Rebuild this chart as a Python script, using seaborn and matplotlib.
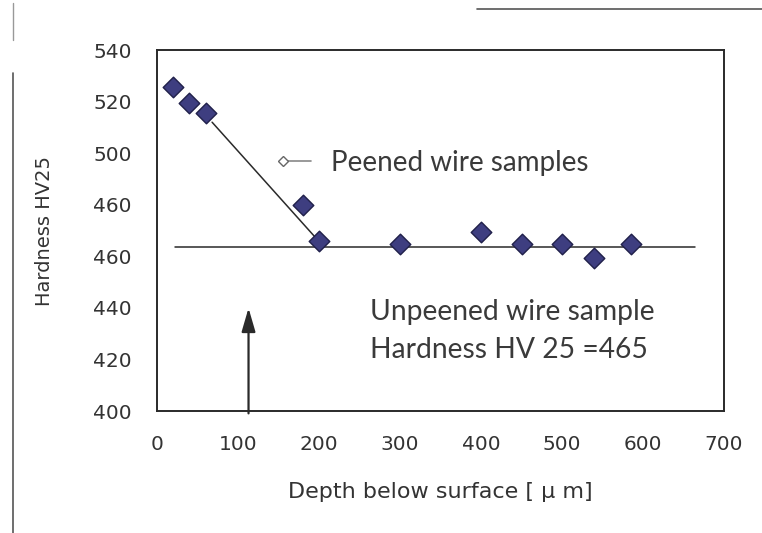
import matplotlib
matplotlib.use("Agg")
import matplotlib.pyplot as plt
import seaborn as sns
import pandas as pd
from matplotlib.lines import Line2D
from matplotlib.legend_handler import HandlerLine2D

# ---- data ----
depth = [20, 40, 60, 180, 200, 300, 400, 450, 500, 540, 585]
hardness = [525.7, 519.6, 515.7, 479.8, 466.0, 464.8, 469.4, 464.8, 464.8, 459.4, 464.8]

trend_x = [68, 205]
trend_y = [512, 464]

base_x = [22, 664]
base_y = [463.5, 463.5]

arrow_x = 113
arrow_y = [398, 441]

x_ticks = [0, 100, 200, 300, 400, 500, 600, 700]
y_ticks = [400, 420, 440, 460, 480, 500, 520, 540]
y_tick_labels = ["400", "420", "440", "460", "460", "500", "520", "540"]

legend_label = "Peened wire samples"
note_lines = ["Unpeened wire sample", "Hardness HV 25 =465"]
x_label = "Depth below surface [ \u03bc m]"
y_label = "Hardness HV25"


class LeftMarkerHandler(HandlerLine2D):
    def create_artists(self, legend, orig_handle, xdescent, ydescent,
                       width, height, fontsize, trans):
        arts = super().create_artists(legend, orig_handle, xdescent, ydescent,
                                      width, height, fontsize, trans)
        for a in arts:
            if isinstance(a, Line2D):
                a.set_markevery([0])
        return arts


sns.set_theme(style="white")
plt.rcParams["font.family"] = ["DejaVu Sans"]

fig = plt.figure(figsize=(7.62, 5.33), dpi=100)
ax = fig.add_axes([157 / 762, 1 - 411 / 533, (724 - 157) / 762, (411 - 50) / 533])

df = pd.DataFrame({"depth": depth, "hardness": hardness})
sns.lineplot(x=trend_x, y=trend_y, ax=ax, color="#2a2a2a", linewidth=1.1)
sns.lineplot(x=base_x, y=base_y, ax=ax, color="#2a2a2a", linewidth=1.1)
sns.scatterplot(data=df, x="depth", y="hardness", ax=ax, marker="D", s=110,
                color="#3e3e80", edgecolor="#20204a", linewidth=1.0, zorder=5)

ax.annotate("", xy=(arrow_x, arrow_y[1]), xytext=(arrow_x, arrow_y[0]),
            arrowprops=dict(arrowstyle="-|>,head_length=1.2,head_width=0.35",
                            color="#2a2a2a", lw=1.6), annotation_clip=False)

ax.set_xlim(0, 700)
ax.set_ylim(400, 540)
ax.set_xticks(x_ticks)
ax.set_yticks(y_ticks)
ax.set_yticklabels(y_tick_labels)
ax.tick_params(axis="both", direction="out", length=6, width=1.0, color="#333333",
               labelsize=14.5, labelcolor="#333333")
ax.tick_params(axis="x", pad=11)
ax.tick_params(axis="y", pad=12)
for s in ax.spines.values():
    s.set_visible(True)
    s.set_color("#2a2a2a")
    s.set_linewidth(1.4)

ax.set_xlabel(x_label, fontsize=16, color="#333333")
ax.set_ylabel(y_label, fontsize=14, color="#333333")
ax.yaxis.set_label_coords(-(157 - 54) / 567, 0.5)
ax.xaxis.set_label_coords(0.5, -(482 - 411) / 361)

handle = Line2D([], [], color="#888888", lw=1.2, marker="D", markersize=5,
                markerfacecolor="white", markeredgecolor="#666666")
leg = ax.legend([handle], [legend_label], loc="center left", frameon=False,
                bbox_to_anchor=(283 / 762, 1 - 163 / 533), bbox_transform=fig.transFigure,
                handlelength=1.0, handletextpad=0.72, numpoints=1, borderpad=0,
                borderaxespad=0, handler_map={Line2D: LeftMarkerHandler()},
                prop={"family": "Lato", "size": 20})
for t in leg.get_texts():
    t.set_color("#3a3a3a")

fig.text(370 / 762, 1 - 312 / 533, note_lines[0], fontsize=20.3, family="Lato",
         color="#3a3a3a", va="center", ha="left")
fig.text(370 / 762, 1 - 350 / 533, note_lines[1], fontsize=20.3, family="Lato",
         color="#3a3a3a", va="center", ha="left")

# scan-frame remnants
fig.add_artist(Line2D([12.5 / 762, 12.5 / 762], [1 - 73 / 533, 0], color="#555555", lw=1.2))
fig.add_artist(Line2D([12.5 / 762, 12.5 / 762], [1 - 3 / 533, 1 - 40 / 533], color="#999999", lw=1.0))
fig.add_artist(Line2D([477 / 762, 1], [1 - 9 / 533, 1 - 9 / 533], color="#555555", lw=1.2))

fig.savefig("out.png", dpi=100, facecolor="white")
